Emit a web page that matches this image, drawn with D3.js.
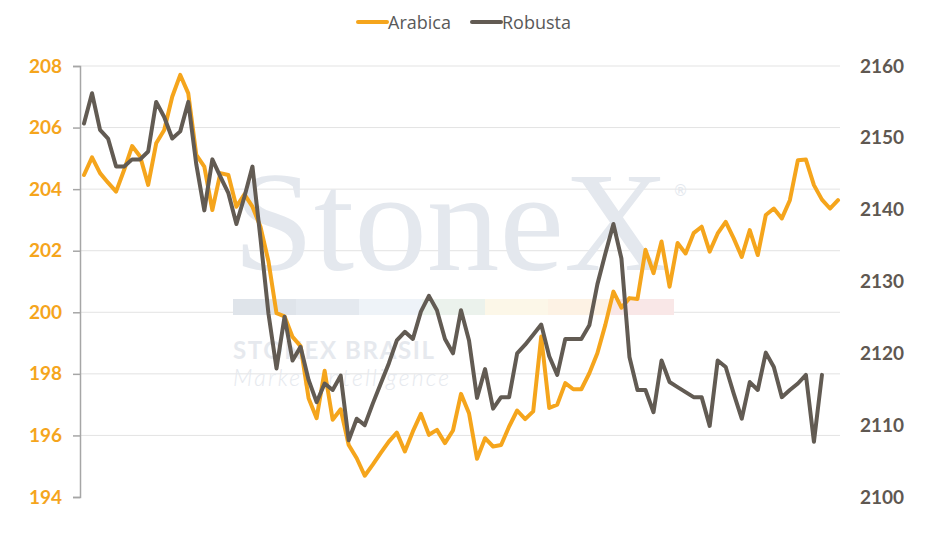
<!DOCTYPE html>
<html>
<head>
<meta charset="utf-8">
<script src="https://cdn.jsdelivr.net/npm/d3@7"></script>
<style>
  html, body { margin: 0; padding: 0; background: #ffffff; }
  svg { display: block; }
</style>
</head>
<body>
<svg id="chart" width="930" height="539"></svg>
<script>
// ---- data ----
const seriesNames = ["Arabica", "Robusta"];
const arabica = [204.46, 205.03, 204.52, 204.21, 203.92, 204.62, 205.40, 205.06, 204.14, 205.49,
  205.92, 207.00, 207.71, 207.11, 205.11, 204.73, 203.32, 204.52, 204.46, 203.43,
  203.83, 203.43, 202.78, 201.65, 199.97, 199.87, 199.20, 198.90, 197.21, 196.56,
  198.10, 196.51, 196.85, 195.69, 195.26, 194.69, 195.05, 195.43, 195.80, 196.09,
  195.48, 196.13, 196.70, 196.02, 196.18, 195.75, 196.16, 197.35, 196.72, 195.24,
  195.91, 195.64, 195.69, 196.29, 196.81, 196.53, 196.78, 199.21, 196.89, 197.00,
  197.70, 197.50, 197.50, 198.02, 198.67, 199.60, 200.67, 200.15, 200.46, 200.43,
  202.03, 201.27, 202.30, 200.83, 202.25, 201.91, 202.57, 202.78, 201.97, 202.56,
  202.94, 202.40, 201.80, 202.67, 201.86, 203.16, 203.37, 203.05, 203.64, 204.94,
  204.96, 204.13, 203.66, 203.37, 203.64];
const robusta = [2152.0, 2156.2, 2151.1, 2149.9, 2146.0, 2146.0, 2147.0, 2147.0, 2148.1, 2155.0,
  2152.9, 2149.9, 2150.9, 2155.0, 2146.3, 2139.9, 2147.0, 2144.6, 2142.3, 2138.0,
  2141.8, 2146.0, 2136.0, 2125.5, 2117.9, 2125.1, 2119.0, 2120.9, 2116.3, 2113.2,
  2115.8, 2114.9, 2116.9, 2107.9, 2110.9, 2110.0, 2113.0, 2115.8, 2118.6, 2121.8,
  2123.0, 2122.0, 2125.8, 2128.0, 2126.0, 2122.0, 2120.0, 2126.0, 2121.8, 2113.8,
  2117.8, 2112.3, 2113.9, 2113.9, 2120.0, 2121.2, 2122.6, 2124.0, 2119.6, 2117.0,
  2122.0, 2122.0, 2122.0, 2123.9, 2129.6, 2133.9, 2138.0, 2133.2, 2119.5, 2114.9,
  2114.9, 2111.8, 2119.0, 2116.0, 2115.3, 2114.6, 2113.9, 2113.9, 2109.9, 2119.0,
  2118.1, 2114.4, 2110.9, 2116.0, 2114.9, 2120.1, 2118.1, 2113.9, 2114.9, 2115.8,
  2117.0, 2107.7, 2117.0];
const leftTicks = [194, 196, 198, 200, 202, 204, 206, 208];
const rightTicks = [2100, 2110, 2120, 2130, 2140, 2150, 2160];
const colors = { Arabica: "#F5A51C", Robusta: "#625B53" };

// ---- layout ----
const svg = d3.select("#chart");
const plotLeft = 80, plotRight = 840, plotTop = 66, plotBottom = 497;
const x = d3.scaleLinear().domain([0, arabica.length - 1]).range([84, 838]);
const yL = d3.scaleLinear().domain([194, 208]).range([plotBottom, plotTop]);
const yR = d3.scaleLinear().domain([2100, 2160]).range([plotBottom, plotTop]);

// gridlines
svg.append("g").selectAll("line").data(leftTicks.slice(1)).join("line")
  .attr("x1", plotLeft).attr("x2", plotRight)
  .attr("y1", d => yL(d)).attr("y2", d => yL(d))
  .attr("stroke", "#e3e3e3").attr("stroke-width", 1);

// ---- watermark ----
const wm = svg.append("g");
wm.append("text").attr("x", 233).attr("y", 270)
  .attr("font-family", "'Liberation Serif', 'DejaVu Serif', serif")
  .attr("font-size", 142).attr("fill", "#e4e8ee")
  .attr("textLength", 436).attr("lengthAdjust", "spacingAndGlyphs")
  .text("StoneX");
wm.append("text").attr("x", 673).attr("y", 196)
  .attr("font-family", "'DejaVu Sans', sans-serif").attr("font-size", 15)
  .attr("fill", "#e4e8ee").text("®");
const barColors = ["#dfe4ea", "#e4e9ef", "#eef3f8", "#ebf2ec", "#fcf7e8", "#fdf2e4", "#f9e7e7"];
wm.append("g").selectAll("rect").data(barColors).join("rect")
  .attr("x", (d, i) => 233 + i * 63).attr("y", 299)
  .attr("width", 63).attr("height", 16).attr("fill", d => d);
wm.append("text").attr("x", 233).attr("y", 359)
  .attr("font-family", "Lato, 'Open Sans', sans-serif").attr("font-weight", 700)
  .attr("font-size", 24).attr("fill", "#e6e9ee")
  .attr("textLength", 201).attr("lengthAdjust", "spacing")
  .text("STONEX BRASIL");
wm.append("text").attr("x", 233).attr("y", 386)
  .attr("font-family", "Lato, 'Open Sans', sans-serif").attr("font-weight", 300)
  .attr("font-style", "italic")
  .attr("font-size", 23).attr("fill", "#e6e9ee")
  .attr("textLength", 216).attr("lengthAdjust", "spacing")
  .text("Market Intelligence");

// ---- left axis ----
const axL = svg.append("g").attr("transform", `translate(${plotLeft},0)`)
  .call(d3.axisLeft(yL).tickValues(leftTicks).tickSize(7).tickPadding(11).tickFormat(d3.format("d")));
axL.select(".domain").attr("stroke", "#a6a6a6").attr("stroke-width", 1.5);
axL.selectAll(".tick line").attr("stroke", "#a6a6a6").attr("stroke-width", 1.5);
axL.selectAll(".tick text")
  .attr("fill", "#F5A51C").attr("font-size", 19).attr("font-weight", 700)
  .attr("font-family", "Lato, 'Open Sans', sans-serif");

// ---- right axis ----
const axR = svg.append("g").attr("transform", `translate(${plotRight},0)`)
  .call(d3.axisRight(yR).tickValues(rightTicks).tickSize(0).tickPadding(20).tickFormat(d3.format("d")));
axR.select(".domain").remove();
axR.selectAll(".tick text")
  .attr("fill", "#5f5851").attr("font-size", 19).attr("font-weight", 700)
  .attr("font-family", "Lato, 'Open Sans', sans-serif");

// ---- lines ----
const lineA = d3.line().x((d, i) => x(i)).y(d => yL(d)).curve(d3.curveLinear);
const lineR = d3.line().x((d, i) => x(i)).y(d => yR(d)).curve(d3.curveLinear);
svg.append("path").datum(arabica).attr("d", lineA)
  .attr("fill", "none").attr("stroke", colors.Arabica).attr("stroke-width", 4)
  .attr("stroke-linejoin", "round").attr("stroke-linecap", "round");
svg.append("path").datum(robusta).attr("d", lineR)
  .attr("fill", "none").attr("stroke", colors.Robusta).attr("stroke-width", 4)
  .attr("stroke-linejoin", "round").attr("stroke-linecap", "round");

// ---- legend ----
const legendX = [358, 472];
const lg = svg.append("g").selectAll("g").data(seriesNames).join("g")
  .attr("transform", (d, i) => `translate(${legendX[i]},22)`);
lg.append("line").attr("x1", 0).attr("x2", 29).attr("y1", 0).attr("y2", 0)
  .attr("stroke", d => colors[d]).attr("stroke-width", 4).attr("stroke-linecap", "round");
lg.append("text").attr("x", 30).attr("y", 6.5)
  .attr("font-family", "'Open Sans', Lato, sans-serif").attr("font-size", 18)
  .attr("fill", "#595959").text(d => d);
</script>
</body>
</html>
